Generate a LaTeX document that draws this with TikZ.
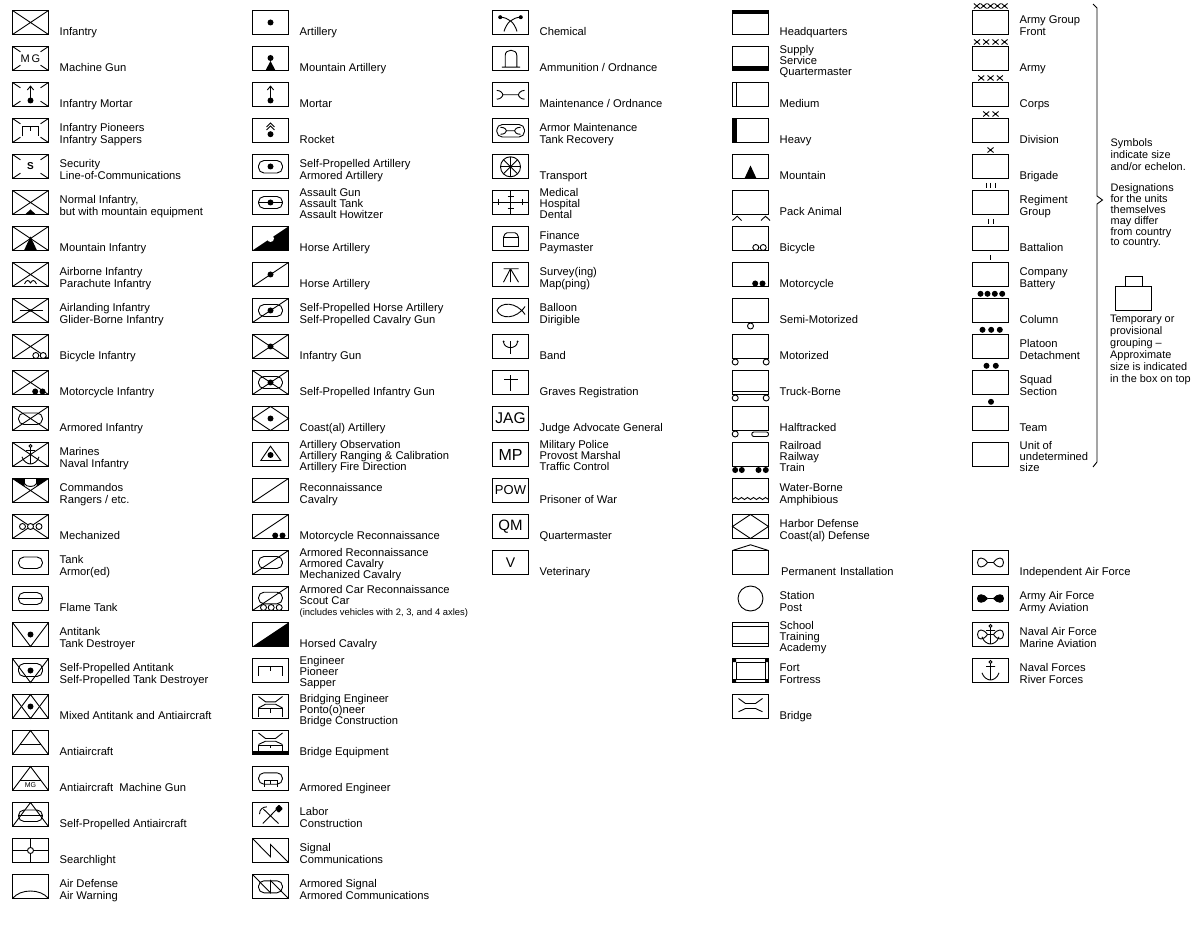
\documentclass[tikz,border=0pt]{standalone}
\usepackage{fontspec}
\setmainfont{Liberation Sans}
\usepackage{xcolor}
\usetikzlibrary{positioning}
\newcommand{\tl}{\\[-1pt]}
\newcommand{\symbox}{\draw[symline] (0,0) rectangle (36,24);}
\newcommand{\crossed}{\draw[symline] (0,0) -- (36,24) (0,24) -- (36,0);}
\newcommand{\brokenx}{\draw[symline] (0,0) -- (8,5.3) (36,0) -- (28,5.3) (0,24) -- (8,18.7) (36,24) -- (28,18.7);}
\newcommand{\diagline}{\draw[symline] (0,24) -- (36,0);}
\newcommand{\downvee}{\draw[symline] (0,0) -- (18,24) -- (36,0);}
\newcommand{\upvee}{\draw[symline] (0,24) -- (18,0) -- (36,24);}
\newcommand{\diamondsign}{\draw[symline] (0,12) -- (18,0) -- (36,12) -- (18,24) -- cycle;}
\newcommand{\spot}[2]{\fill (#1,#2) circle (3pt);}
\newcommand{\ring}[2]{\draw[symline,fill=white] (#1,#2) circle (3pt);}
\newcommand{\capsule}[2]{\draw[symline,rounded corners=5.5pt] (6,#1) rectangle (30,#2);}
\newcommand{\midline}[3]{\draw[symline] (#1,#3) -- (#2,#3);}
\newcommand{\engsign}[4]{\draw[symline] (#1,#4) -- (#1,#3) -- (#2,#3) -- (#2,#4) ({(#1+#2)/2},#3) -- ({(#1+#2)/2},{(#3+#4)/2});}
\newcommand{\bridgearc}[2]{\draw[symline] (6,#1) -- (13,#2) -- (23,#2) -- (30,#1);}
\newcommand{\peak}[2]{\fill (18,#1) -- ({18-#2},24) -- ({18+#2},24) -- cycle;}
\newcommand{\mortarsign}{\draw[symline] (18,18) -- (18,3.7) (14.8,7.5) -- (18,3.7) -- (21.2,7.5); \spot{18}{18}}
\newcommand{\wheels}{\ring{23.3}{21}\ring{30.7}{21}}
\newcommand{\motordots}{\spot{22.7}{21}\spot{30}{21}}
\newcommand{\blackslant}{\fill (0,24) -- (36,0) -- (36,24) -- cycle;}
\newcommand{\signalbolt}{\draw[symline] (0,0) -- (18,18.3) -- (18,6) -- (36,24);}
\newcommand{\wrench}[3]{\draw[symline] ({#1+6},12.3) -- ({#2-6},12.3) (#1,{12.3-#3}) .. controls ({#1+4},{12.3-#3}) and ({#1+6},11) .. ({#1+6},12.3) .. controls ({#1+6},13.6) and ({#1+4},{12.3+#3}) .. (#1,{12.3+#3}) (#2,{12.3-#3}) .. controls ({#2-4},{12.3-#3}) and ({#2-6},11) .. ({#2-6},12.3) .. controls ({#2-6},13.6) and ({#2-4},{12.3+#3}) .. (#2,{12.3+#3});}
\newcommand{\anchorsign}{\draw[symline] (18,5) -- (18,21.5) (13.5,8) -- (22.5,8) (9.5,14.3) .. controls (11,19) and (15,21.5) .. (18,21.5) .. controls (21,21.5) and (25,19) .. (26.5,14.3); \draw[symline] (18,3.4) circle (1.5pt);}
\newcommand{\airloops}[2]{\draw[symline,#1] (15,12) .. controls (11,{12-#2}) and (5,{12-#2}) .. (5,12) .. controls (5,{12+#2}) and (11,{12+#2}) .. (15,12) (21,12) .. controls (25,{12-#2}) and (31,{12-#2}) .. (31,12) .. controls (31,{12+#2}) and (25,{12+#2}) .. (21,12); \draw[symline] (15,12) -- (21,12);}
\newcommand{\echx}[1]{\draw[symline] ({#1-3},-7) -- ({#1+3},-2) ({#1+3},-7) -- ({#1-3},-2);}
\newcommand{\echbar}[1]{\draw[symline] (#1,-7.5) -- (#1,-2.5);}
\newcommand{\boxtxt}[4]{\node[glyph,font=\fontsize{#3}{#3}\selectfont] (txt\col-\rownum) at (#1,#2) {#4};}
\newcommand{\unit}[4]{%
  \begin{scope}[shift={(12.5+240*\col,10.5+36*#1)}]
    \def\rownum{#1}
    #3
    \node[unitlabel] (lab\col-#1) at (47,#2) {#4};
  \end{scope}
}
\begin{document}
\begin{tikzpicture}[x=1pt, y=-1pt,
    symline/.style={line width=0.9pt, line join=miter},
    glyph/.style={inner sep=0pt},
    unitlabel/.style={anchor=base west, align=left, inner sep=0pt, font=\fontsize{11.2}{12}\selectfont},
    sidenote/.style={anchor=base west, align=left, inner sep=0pt, font=\fontsize{10.9}{12}\selectfont}]
  \useasboundingbox (0,0) rectangle (1195,941);
  \def\col{0}
  \unit{0}{25}{\symbox\crossed}{Infantry}
  \unit{1}{25}{\symbox\brokenx\boxtxt{18}{12}{11}{M\,G}}{Machine Gun}
  \unit{2}{25}{\symbox\brokenx\mortarsign}{Infantry Mortar}
  \unit{3}{25}{\symbox\brokenx\engsign{10}{26}{8}{18}}{Infantry Pioneers\\Infantry Sappers}
  \unit{4}{25}{\symbox\brokenx\boxtxt{18}{12}{10}{\textbf{S}}}{Security\\Line-of-Communications}
  \unit{5}{25}{\symbox\crossed\peak{19}{5.5}}{Normal Infantry,\\but with mountain equipment}
  \unit{6}{25}{\symbox\crossed\peak{10}{6.5}}{Mountain Infantry}
  \unit{7}{25}{\symbox\crossed\draw[symline] (12,21.5) .. controls (14,17) and (16,17) .. (18,20.5) .. controls (20,17) and (22,17) .. (24,21.5);}{Airborne Infantry\\Parachute Infantry}
  \unit{8}{25}{\symbox\crossed\midline{7}{30}{12}\fill (18,12) ellipse (2.5pt and 1.2pt);}{Airlanding Infantry\\Glider-Borne Infantry}
  \unit{9}{25}{\symbox\crossed\wheels}{Bicycle Infantry}
  \unit{10}{25}{\symbox\crossed\motordots}{Motorcycle Infantry}
  \unit{11}{25}{\symbox\crossed\capsule{6.5}{18}}{Armored Infantry}
  \unit{12}{25}{\symbox\crossed\anchorsign}{Marines\\Naval Infantry}
  \unit{13}{25}{\symbox\crossed\fill (0,0) -- (12,0) -- (12,8) -- cycle (24,0) -- (36,0) -- (24,8) -- cycle;\draw[symline] (12,0) -- (12,5) .. controls (13,9) and (23,9) .. (24,5) -- (24,0);}{Commandos\\Rangers / etc.}
  \unit{14}{25}{\symbox\crossed\ring{10}{12}\ring{18}{12}\ring{26.5}{12}}{Mechanized}
  \unit{15}{25}{\symbox\capsule{6.5}{18}}{Tank\\Armor(ed)}
  \unit{16}{25}{\symbox\capsule{6}{18}\midline{6}{30}{12}}{Flame Tank}
  \unit{17}{25}{\symbox\downvee\spot{18}{12}}{Antitank\\Tank Destroyer}
  \unit{18}{25}{\symbox\downvee\capsule{5}{18}\spot{18}{12}}{Self-Propelled Antitank\\Self-Propelled Tank Destroyer}
  \unit{19}{25}{\symbox\downvee\upvee\spot{18}{12}}{Mixed Antitank and Antiaircraft}
  \unit{20}{25}{\symbox\upvee\midline{7.5}{28.5}{14}}{Antiaircraft}
  \unit{21}{25}{\symbox\upvee\midline{7.5}{28.5}{14}\boxtxt{18}{19}{7}{MG}}{Antiaircraft\ \ Machine Gun}
  \unit{22}{25}{\symbox\upvee\capsule{7.5}{19}\midline{6}{30}{13.3}}{Self-Propelled Antiaircraft}
  \unit{23}{25}{\symbox\draw[symline] (18,0) -- (18,24) (0,12) -- (36,12);\ring{18}{12}}{Searchlight}
  \unit{24}{25}{\symbox\draw[symline] (0,24) .. controls (8,14) and (28,14) .. (36,24);}{Air Defense\\Air Warning}
  \def\col{1}
  \unit{0}{25}{\symbox\spot{18}{12}}{Artillery}
  \unit{1}{25}{\symbox\spot{18}{11.5}\peak{14.5}{5}}{Mountain Artillery}
  \unit{2}{25}{\symbox\mortarsign}{Mortar}
  \unit{3}{25}{\symbox\spot{18}{15.7}\draw[symline] (14,8.5) -- (18,4.5) -- (22,8.5) (14,11.5) -- (18,7.5) -- (22,11.5);}{Rocket}
  \unit{4}{25}{\symbox\capsule{6}{18.5}\spot{18}{12}}{Self-Propelled Artillery\\Armored Artillery}
  \unit{5}{28}{\symbox\capsule{6}{18}\midline{6}{30}{12}\spot{18}{12}}{Assault Gun\tl Assault Tank\tl Assault Howitzer}
  \unit{6}{25}{\symbox\blackslant\fill[white] (18,12) circle (3.5pt);}{Horse Artillery}
  \unit{7}{25}{\symbox\diagline\spot{18}{12}}{Horse Artillery}
  \unit{8}{25}{\symbox\diagline\capsule{6}{18}\spot{18}{12}}{Self-Propelled Horse Artillery\\Self-Propelled Cavalry Gun}
  \unit{9}{25}{\symbox\crossed\spot{18}{12}}{Infantry Gun}
  \unit{10}{25}{\symbox\crossed\capsule{6}{18}\spot{18}{12}}{Self-Propelled Infantry Gun}
  \unit{11}{25}{\symbox\diamondsign\spot{18}{12}}{Coast(al) Artillery}
  \unit{12}{28}{\symbox\draw[symline] (18,3.7) -- (28.3,18) -- (8.3,18) -- cycle;\spot{18}{12.5}}{Artillery Observation\tl Artillery Ranging \& Calibration\tl Artillery Fire Direction}
  \unit{13}{25}{\symbox\diagline}{Reconnaissance\\Cavalry}
  \unit{14}{25}{\symbox\diagline\motordots}{Motorcycle Reconnaissance}
  \unit{15}{28}{\symbox\diagline\capsule{6}{18}}{Armored Reconnaissance\tl Armored Cavalry\tl Mechanized Cavalry}
  \unit{16}{29}{\symbox\diagline\capsule{5.7}{17.3}\ring{11}{21}\ring{18.7}{21}\ring{26.7}{21}}{Armored Car Reconnaissance\tl Scout Car\tl\fontsize{9.4}{11}\selectfont (includes vehicles with 2, 3, and 4 axles)}
  \unit{17}{25}{\symbox\blackslant}{Horsed Cavalry}
  \unit{18}{28}{\symbox\engsign{6}{30}{7.7}{17.3}}{Engineer\tl Pioneer\tl Sapper}
  \unit{19}{30}{\symbox\bridgearc{2}{7.3}\bridgearc{13.5}{9.7}\engsign{6}{30}{14}{22}}{Bridging Engineer\tl Ponto(o)neer\tl Bridge Construction}
  \unit{20}{25}{\symbox\bridgearc{2.5}{8}\bridgearc{14}{10.7}\engsign{6}{30}{14.7}{20}\fill (0,20) rectangle (36,24);}{Bridge Equipment}
  \unit{21}{25}{\symbox\capsule{6.3}{17.7}\engsign{11.5}{25}{13.7}{20.3}}{Armored Engineer}
  \unit{22}{25}{\symbox\draw[symline] (10.3,21) -- (25,6) (26,21) -- (11,6.7) (7,11.7) .. controls (7,7) and (10,4.5) .. (14.3,4.3);\fill[rounded corners=1pt] (26.5,2) -- (30.5,6) -- (26,10.5) -- (22.5,6) -- cycle;}{Labor\\Construction}
  \unit{23}{25}{\symbox\signalbolt}{Signal\\Communications}
  \unit{24}{25}{\symbox\signalbolt\capsule{6.3}{18.3}}{Armored Signal\\Armored Communications}
  \def\col{2}
  \unit{0}{25}{\symbox\draw[symline] (7.7,6.7) .. controls (16,7) and (22,12) .. (24.5,21) (28.3,6.7) .. controls (20,7) and (14,12) .. (11.5,21);\fill (7.7,6.7) circle (2pt) (28.3,6.7) circle (2pt);}{Chemical}
  \unit{1}{25}{\symbox\draw[symline] (9.3,20.7) -- (27.7,20.7) (12.7,20.7) -- (12.7,9) .. controls (12.7,2) and (24.3,2) .. (24.3,9) -- (24.3,20.7);}{Ammunition / Ordnance}
  \unit{2}{25}{\symbox\wrench{4.3}{32}{4.4}}{Maintenance / Ordnance}
  \unit{3}{25}{\symbox\draw[symline,rounded corners=5.5pt] (4.3,6) rectangle (32,18.5);\wrench{8}{28}{3.5}}{Armor Maintenance\\Tank Recovery}
  \unit{4}{25}{\symbox\draw[symline] (18,12.3) circle (10pt);\foreach \a in {0,45,...,315}{\draw[symline] (18,12.3) -- ++(\a:10);}}{Transport}
  \unit{5}{28}{\symbox\draw[symline] (18,0) -- (18,24) (0,12) -- (36,12) (15,6) -- (21,6) (15,18) -- (21,18) (6,9) -- (6,15) (30,9) -- (30,15);}{Medical\tl Hospital\tl Dental}
  \unit{6}{25}{\symbox\draw[symline] (11,10.7) rectangle (26,19.7);\draw[symline,rounded corners=1.5pt] (11,10.7) -- (13,6.3) -- (24,6.3) -- (26,10.7);}{Finance\\Paymaster}
  \unit{7}{25}{\symbox\draw[symline] (11,6.3) -- (26,6.3) (18,6.3) -- (11,19.7) (18,6.3) -- (18,19.7) (18,6.3) -- (26,19.7);}{Survey(ing)\\Map(ping)}
  \unit{8}{25}{\symbox\draw[symline] (4.5,12) .. controls (8,3) and (24,3) .. (32.5,16) (4.5,12) .. controls (8,21) and (24,21) .. (32.5,8);}{Balloon\\Dirigible}
  \unit{9}{25}{\symbox\draw[symline] (18,6.7) -- (18,19.3) (11,7.5) .. controls (12,15) and (24,15) .. (25,7.5);\fill (11,7) circle (1pt) (25,7) circle (1pt);}{Band}
  \unit{10}{25}{\symbox\draw[symline] (18,5) -- (18,20.7) (11.7,9) -- (25,9);}{Graves Registration}
  \unit{11}{25}{\symbox\boxtxt{18}{12}{15.5}{JAG}}{Judge Advocate General}
  \unit{12}{28}{\symbox\boxtxt{18}{12}{16}{MP}}{Military Police\tl Provost Marshal\tl Traffic Control}
  \unit{13}{25}{\symbox\boxtxt{18}{12}{13}{POW}}{Prisoner of War}
  \unit{14}{25}{\symbox\boxtxt{18}{12}{15}{QM}}{Quartermaster}
  \unit{15}{25}{\symbox\boxtxt{18}{12}{14}{V}}{Veterinary}
  \def\col{3}
  \unit{0}{25}{\symbox\fill (0,0) rectangle (36,3.5);}{Headquarters}
  \unit{1}{29}{\symbox\fill (0,20) rectangle (36,24);}{Supply\tl Service\tl Quartermaster}
  \unit{2}{25}{\symbox\draw[symline] (3.7,0) -- (3.7,24);}{Medium}
  \unit{3}{25}{\symbox\fill (0,0) rectangle (4.5,24);}{Heavy}
  \unit{4}{25}{\symbox\peak{11}{6}}{Mountain}
  \unit{5}{25}{\symbox\draw[symline] (0,30) -- (4.7,25.7) -- (9,30) (28.5,30) -- (33,25.7) -- (37.5,30);}{Pack Animal}
  \unit{6}{25}{\symbox\wheels}{Bicycle}
  \unit{7}{25}{\symbox\motordots}{Motorcycle}
  \unit{8}{25}{\symbox\ring{18}{27.5}}{Semi-Motorized}
  \unit{9}{25}{\symbox\ring{2.7}{27.5}\ring{33.7}{27.5}}{Motorized}
  \unit{10}{25}{\symbox\midline{0}{36}{20.7}\ring{2.7}{27.5}\ring{33.7}{27.5}}{Truck-Borne}
  \unit{11}{25}{\symbox\ring{2.7}{27.5}\draw[symline,rounded corners=2pt] (19.3,25.5) rectangle (36,30);}{Halftracked}
  \unit{12}{29}{\symbox\spot{2.7}{27.5}\spot{9.3}{27.5}\spot{26}{27.5}\spot{33.3}{27.5}}{Railroad\tl Railway\tl Train}
  \unit{13}{25}{\symbox\draw[symline] (0,21) -- (3,19) -- (6,21) -- (9,19) -- (12,21) -- (15,19) -- (18,21) -- (21,19) -- (24,21) -- (27,19) -- (30,21) -- (33,19) -- (36,21);}{Water-Borne\\Amphibious}
  \unit{14}{25}{\symbox\diamondsign}{Harbor Defense\\Coast(al) Defense}
  \unit{15}{25}{\symbox\draw[symline] (0,0) -- (18,-5.7) -- (36,0);}{\kern1.5pt Permanent\ \kern1pt Installation}
  \unit{16}{25}{\draw[symline] (18,12) circle (12.5pt);}{Station\\Post}
  \unit{17}{29}{\symbox\midline{0}{36}{3.5}\midline{0}{36}{20.5}}{School\tl Training\tl Academy}
  \unit{18}{25}{\symbox\draw[symline] (3.5,3.5) rectangle (32.5,20.5);\fill (0,0) rectangle (3.5,3.5) (32.5,0) rectangle (36,3.5) (0,20.5) rectangle (3.5,24) (32.5,20.5) rectangle (36,24);}{Fort\\Fortress}
  \unit{19}{25}{\symbox\bridgearc{4}{9}\bridgearc{17.3}{14}}{Bridge}
  \def\col{4}
  \unit{0}{25}{\symbox\foreach \m in {4.3,11,18,25,32}{\echx{\m}}}{Army Group\\Front}
  \unit{1}{25}{\symbox\foreach \m in {4.5,13.7,23,32}{\echx{\m}}}{Army}
  \unit{2}{25}{\symbox\foreach \m in {8.7,18,27.3}{\echx{\m}}}{Corps}
  \unit{3}{25}{\symbox\foreach \m in {13.7,23}{\echx{\m}}}{Division}
  \unit{4}{25}{\symbox\echx{18}}{Brigade}
  \unit{5}{25}{\symbox\foreach \m in {13.7,18,22.7}{\echbar{\m}}}{Regiment\\Group}
  \unit{6}{25}{\symbox\foreach \m in {15.7,20.7}{\echbar{\m}}}{Battalion}
  \unit{7}{25}{\symbox\echbar{18}}{Company\\Battery}
  \unit{8}{25}{\symbox\foreach \m in {8,15,22.3,29.7}{\spot{\m}{-4.7}}}{Column}
  \unit{9}{25}{\symbox\foreach \m in {10,18.7,27.3}{\spot{\m}{-4.7}}}{Platoon\\Detachment}
  \unit{10}{25}{\symbox\foreach \m in {14,23.3}{\spot{\m}{-4.7}}}{Squad\\Section}
  \unit{11}{25}{\symbox\spot{18.5}{-4.7}}{Team}
  \unit{12}{29}{\symbox}{Unit of\tl undetermined\tl size}
  \unit{15}{25}{\symbox\airloops{}{6}}{Independent Air Force}
  \unit{16}{25}{\symbox\airloops{fill=black}{5}}{Army Air Force\\Army Aviation}
  \unit{17}{25}{\symbox\airloops{}{6}\anchorsign}{Naval Air Force\\Marine Aviation}
  \unit{18}{25}{\symbox\anchorsign}{Naval Forces\\River Forces}
  \draw[symline] (1093,4) -- (1097,8) -- (1097,196) -- (1102.5,200) -- (1097,204) -- (1097,462) -- (1093,467);
  \node[sidenote] (symbols) at (1110.5,171) {Symbols\\indicate size\\and/or echelon.};
  \node[sidenote,font=\fontsize{10.9}{10.8}\selectfont] (designations) at (1110.5,246) {Designations\\for the units\\themselves\\may differ\\from country\\to country.};
  \draw[symline] (1115.5,286.5) rectangle (1151.5,310.5);
  \draw[symline] (1125,286.5) -- (1125,276.5) -- (1142,276.5) -- (1142,286.5);
  \node[sidenote] (temporary) at (1110,383) {Temporary or\\provisional\\grouping --\\Approximate\\size is indicated\\in the box on top};
\end{tikzpicture}
\end{document}
